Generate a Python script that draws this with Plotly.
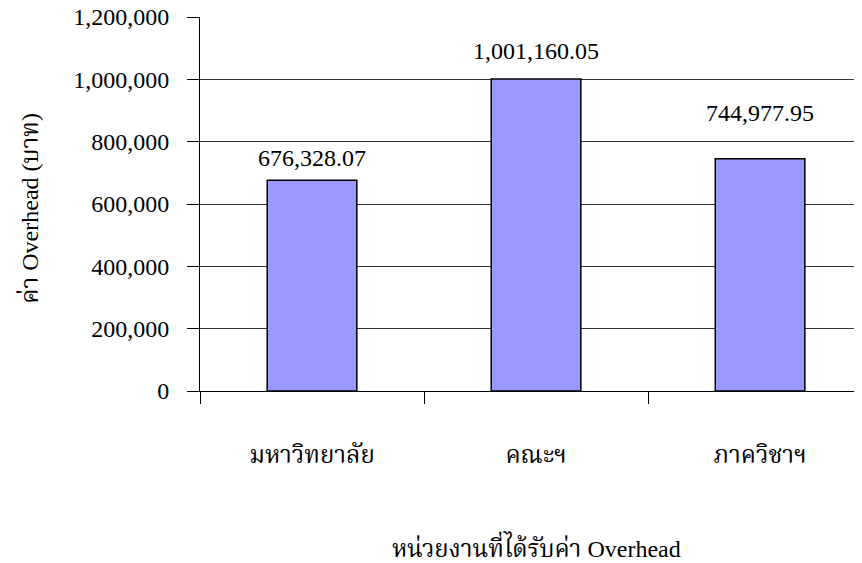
import plotly.graph_objects as go

categories = ["มหาวิทยาลัย", "คณะฯ", "ภาควิชาฯ"]
values = [676328.07, 1001160.05, 744977.95]
value_labels = ["676,328.07", "1,001,160.05", "744,977.95"]
label_offsets_px = [22, 28, 46]
y_ticks = [0, 200000, 400000, 600000, 800000, 1000000, 1200000]
y_tick_text = ["0", "200,000", "400,000", "600,000", "800,000", "1,000,000", "1,200,000"]

FONT = "Liberation Serif, Times New Roman, Noto Serif Thai, Noto Sans Thai, serif"
FS = 24

fig = go.Figure()
fig.add_trace(go.Bar(
    x=categories, y=values, width=0.4,
    marker=dict(color="#9999FF", line=dict(color="black", width=1.5)),
    hoverinfo="skip",
))

for c, v, t, off in zip(categories, values, value_labels, label_offsets_px):
    fig.add_annotation(x=c, y=v, text=t, showarrow=False, yanchor="middle",
                       yshift=off, font=dict(family=FONT, size=FS, color="black"))

fig.add_annotation(xref="paper", yref="paper", x=0.5076, y=-0.417,
                   text="หน่วยงานที่ได้รับค่า Overhead", showarrow=False,
                   xanchor="center", yanchor="middle",
                   font=dict(family=FONT, size=FS, color="black"))

fig.add_annotation(xref="paper", yref="paper", x=-0.2568, y=0.49,
                   text="ค่า Overhead (บาท)", showarrow=False, textangle=-90,
                   xanchor="center", yanchor="middle",
                   font=dict(family=FONT, size=FS, color="black"))

# page body has an 8px default margin, so the figure is sized/offset accordingly
fig.update_layout(
    width=854, height=555,
    margin=dict(l=192, r=0, t=9, b=172, autoexpand=False),
    paper_bgcolor="white", plot_bgcolor="white",
    showlegend=False,
    font=dict(family=FONT, size=FS, color="black"),
    xaxis=dict(
        type="category", range=[-0.5, 2.455], automargin=False,
        showline=True, linecolor="black", linewidth=1,
        ticks="outside", tickson="boundaries", ticklen=12, tickcolor="black",
        ticklabelstandoff=42, showgrid=False, zeroline=False,
        tickfont=dict(family=FONT, size=FS, color="black"),
    ),
    yaxis=dict(
        range=[0, 1200000], tickvals=y_ticks, ticktext=y_tick_text,
        automargin=False, ticklabeloverflow="allow",
        showline=True, linecolor="black", linewidth=1,
        ticks="outside", ticklen=12, tickcolor="black",
        ticklabelstandoff=13,
        showgrid=True, gridcolor="#333333", gridwidth=1, zeroline=False,
        tickfont=dict(family=FONT, size=FS, color="black"),
    ),
)

fig.write_html("out.html")
